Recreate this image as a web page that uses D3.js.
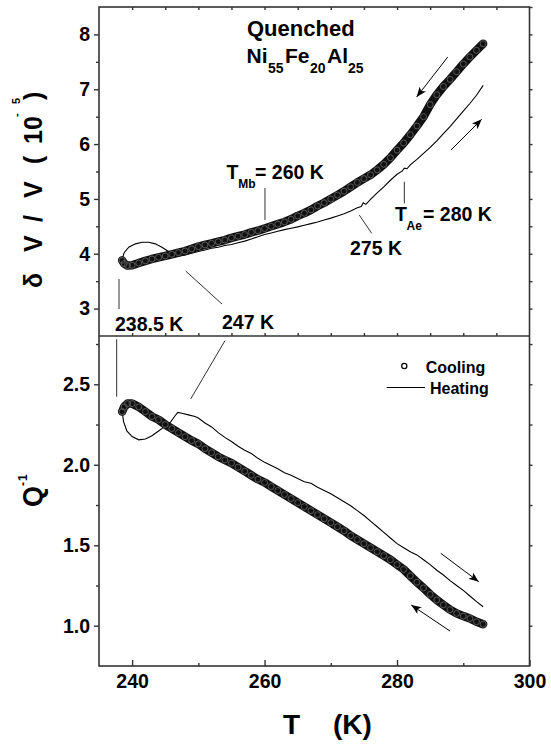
<!DOCTYPE html>
<html>
<head>
<meta charset="utf-8">
<script src="https://cdn.jsdelivr.net/npm/d3@7"></script>
<style>
  body { margin: 0; background: #fff; }
  text { font-family: 'Liberation Sans', Arial, sans-serif; font-weight: bold; }
</style>
</head>
<body>
<script>
// Données : température (K) et valeurs
// Refroidissement (cercles) : même grille de T pour les deux panneaux
const coolT = [238.5, 238.8, 239.3, 240, 241, 242, 243, 244, 245, 246, 247, 248, 249, 250,
  251, 252, 253, 254, 255, 256, 257, 258, 259, 260, 261, 262, 263, 264, 265, 266, 267, 268, 269, 270,
  271, 272, 273, 274, 275, 276, 277, 278, 279, 280, 281, 282, 283, 284, 285, 286, 287, 288, 289, 290,
  291, 292, 293]
const coolDV = [3.88, 3.82, 3.785, 3.79, 3.83, 3.87, 3.905, 3.935, 3.96, 3.99, 4.02, 4.05, 4.09, 4.13,
  4.16, 4.19, 4.22, 4.25, 4.29, 4.32, 4.35, 4.39, 4.42, 4.46, 4.50, 4.54, 4.58, 4.63, 4.69, 4.74, 4.80, 4.87, 4.93, 5.00,
  5.07, 5.14, 5.22, 5.30, 5.37, 5.44, 5.53, 5.63, 5.75, 5.89, 6.02, 6.17, 6.33, 6.50, 6.72, 6.90, 7.05, 7.18, 7.32, 7.46,
  7.59, 7.71, 7.83]
const coolQ = [2.33, 2.36, 2.38, 2.38, 2.36, 2.33, 2.30, 2.28, 2.25, 2.225, 2.20, 2.175, 2.15, 2.13,
  2.10, 2.075, 2.05, 2.03, 2.01, 1.985, 1.96, 1.935, 1.91, 1.89, 1.865, 1.84, 1.815, 1.79, 1.765, 1.74, 1.715, 1.69, 1.665, 1.64,
  1.615, 1.59, 1.56, 1.535, 1.51, 1.485, 1.46, 1.435, 1.41, 1.38, 1.35, 1.31, 1.27, 1.235, 1.195, 1.16, 1.13, 1.10, 1.077, 1.06,
  1.045, 1.025, 1.01]

// Chauffage (trait fin) - panneau du haut
const heatTdv = [238.5, 238.8, 239.5, 240.5, 241.5, 242.5, 243.5, 244.5, 245.5, 246.2,
  247, 248, 249, 250, 251, 252, 253, 254, 255, 256, 257, 258, 259, 260, 261, 262, 263, 264, 265, 266,
  267, 268, 269, 270, 271, 272, 273, 274, 274.6, 274.9, 275.3, 276, 277, 278, 279, 280, 280.8, 281.1, 281.5,
  282, 283, 284, 285, 286, 287, 288, 289, 290, 291, 292, 293]
const heatDV = [3.90, 4.02, 4.12, 4.18, 4.21, 4.21, 4.18, 4.12, 4.04, 3.98,
  3.96, 3.98, 4.01, 4.04, 4.07, 4.10, 4.12, 4.15, 4.17, 4.20, 4.23, 4.27, 4.31, 4.35, 4.38, 4.41, 4.44, 4.465, 4.49, 4.52,
  4.55, 4.58, 4.615, 4.65, 4.69, 4.73, 4.78, 4.84, 4.86, 4.93, 4.90, 4.99, 5.11, 5.22, 5.34, 5.45, 5.51, 5.56, 5.55,
  5.62, 5.72, 5.83, 5.94, 6.06, 6.19, 6.32, 6.46, 6.60, 6.74, 6.89, 7.07]

// Chauffage (trait fin) - panneau du bas
const heatTq = [238.5, 238.7, 239.2, 240, 241, 242, 243, 244, 245, 245.8, 246.4, 246.9, 247.5, 248.5, 249.5,
  250, 251, 252, 253, 254, 255, 256, 257, 258, 259, 260, 261, 262, 263, 264, 265, 266, 267, 268, 269, 270,
  271, 272, 273, 274, 275, 276, 277, 278, 279, 280, 281, 282, 283, 284, 285, 286, 287, 288, 289, 290,
  291, 292, 293]
const heatQ = [2.33, 2.27, 2.21, 2.175, 2.155, 2.16, 2.18, 2.21, 2.24, 2.265, 2.30, 2.325, 2.32, 2.31, 2.30,
  2.29, 2.26, 2.235, 2.20, 2.17, 2.145, 2.115, 2.09, 2.07, 2.04, 2.015, 1.995, 1.975, 1.95, 1.935, 1.915, 1.895, 1.885, 1.86, 1.84, 1.82,
  1.795, 1.77, 1.745, 1.715, 1.685, 1.65, 1.615, 1.58, 1.545, 1.51, 1.485, 1.46, 1.44, 1.41, 1.38, 1.345, 1.315, 1.28, 1.25, 1.22,
  1.185, 1.15, 1.118]

// Graduations
const xTicks = [240, 260, 280, 300]
const xMinor = [250, 270, 290]
const xFine = d3.range(240, 300, 5)
const dvTicks = [3, 4, 5, 6, 7, 8]
const dvMinor = [3.5, 4.5, 5.5, 6.5, 7.5]
const dvRight = d3.range(3, 8.51, 0.5)
const qTicks = [1.0, 1.5, 2.0, 2.5]
const qMinor = [1.25, 1.75, 2.25, 2.75]
const qRight = d3.range(1.0, 2.76, 0.25)

// Segments d'annotation [T1, v1, T2, v2]
const topLeaders = [[238.02, 3.54, 238.02, 2.99], [248.09, 3.685, 253.57, 3.083],
  [260.06, 5.199, 260.06, 4.615], [281.1, 5.314, 281.1, 4.92], [274.3, 4.706, 276.17, 4.373]]
const botLeaders = [[237.67, 2.78, 237.67, 2.423], [254.02, 2.771, 248.85, 2.409]]
const topArrows = [[287.65, 7.588, 282.96, 6.858], [288.15, 5.892, 292.78, 6.452]]
const botArrows = [[286.6, 1.45, 292.33, 1.274], [288.0, 0.967, 282.15, 1.129]]

// Dimensions du cadre
const W = 551, H = 749
const frame = { left: 99, right: 529.5, top: 7, mid: 336, bottom: 666 }

const svg = d3.select('body').append('svg')
    .attr('width', W)
    .attr('height', H)

svg.append('rect').attr('width', W).attr('height', H).attr('fill', '#fff')

const defs = svg.append('defs')
defs.append('marker')
    .attr('id', 'head')
    .attr('viewBox', '0 0 10 8')
    .attr('refX', 10).attr('refY', 4)
    .attr('markerWidth', 10).attr('markerHeight', 8)
    .attr('markerUnits', 'userSpaceOnUse')
    .attr('orient', 'auto')
    .append('path')
    .attr('d', 'M0,0 L10,4 L0,8 L2.5,4 Z')
    .attr('fill', '#000')

// Echelles
const x = d3.scaleLinear().domain([235, 300]).range([frame.left, frame.right])
const yTop = d3.scaleLinear().domain([2.5, 8.5]).range([frame.mid, frame.top])
const yBot = d3.scaleLinear().domain([0.75, 2.8]).range([frame.bottom, frame.mid])

// Mise en forme commune des axes
const tidy = (g, size) => {
    g.attr('font-family', "'Liberation Sans', Arial, sans-serif")
        .attr('font-size', size)
        .attr('font-weight', 'bold')
    g.select('.domain').remove()
    g.selectAll('line').attr('stroke', '#333').attr('stroke-width', 1.4)
    g.selectAll('text').attr('fill', '#000')
}

const addAxis = (axis, tx, ty, size) => {
    svg.append('g')
        .attr('transform', `translate(${tx},${ty})`)
        .call(axis)
        .call(g => tidy(g, size))
}

// Axe gauche, panneau du haut
addAxis(d3.axisLeft(yTop).tickValues(dvTicks).tickSize(5).tickPadding(4).tickFormat(d3.format('d')), frame.left, 0, 19.5)
addAxis(d3.axisLeft(yTop).tickValues(dvMinor).tickSize(3).tickFormat(''), frame.left, 0, 10)
// Axe gauche, panneau du bas
addAxis(d3.axisLeft(yBot).tickValues(qTicks).tickSize(5).tickPadding(4).tickFormat(d3.format('.1f')), frame.left, 0, 19.5)
addAxis(d3.axisLeft(yBot).tickValues(qMinor).tickSize(3).tickFormat(''), frame.left, 0, 10)
// Axe droit
addAxis(d3.axisRight(yTop).tickValues(dvRight).tickSize(3).tickFormat(''), frame.right, 0, 10)
addAxis(d3.axisRight(yBot).tickValues(qRight).tickSize(3).tickFormat(''), frame.right, 0, 10)
// Axe du bas (graduations vers l'intérieur)
addAxis(d3.axisBottom(x).tickValues(xTicks).tickSizeInner(-6).tickSizeOuter(0).tickPadding(8), 0, frame.bottom, 19.5)
addAxis(d3.axisBottom(x).tickValues(xMinor).tickSizeInner(-3).tickSizeOuter(0).tickFormat(''), 0, frame.bottom, 10)
// Haut et séparation
addAxis(d3.axisBottom(x).tickValues(xFine).tickSize(3).tickFormat(''), 0, frame.top, 10)
addAxis(d3.axisTop(x).tickValues(xFine).tickSize(3).tickFormat(''), 0, frame.mid, 10)

// Cadre
svg.append('rect')
    .attr('x', frame.left).attr('y', frame.top)
    .attr('width', frame.right - frame.left)
    .attr('height', frame.bottom - frame.top)
    .attr('fill', 'none').attr('stroke', '#333').attr('stroke-width', 1.6)
svg.append('line')
    .attr('x1', frame.left).attr('x2', frame.right)
    .attr('y1', frame.mid).attr('y2', frame.mid)
    .attr('stroke', '#333').attr('stroke-width', 1.6)

// Dessine une série
const drawHeating = (T, V, ys) => {
    svg.append('path')
        .datum(d3.zip(T, V))
        .attr('d', d3.line().x(d => x(d[0])).y(d => ys(d[1])))
        .attr('fill', 'none')
        .attr('stroke', '#000')
        .attr('stroke-width', 1.1)
}

// bande noire épaisse + cercles gris (comme les symboles très serrés de l'original)
const drawCooling = (T, V, ys) => {
    const pts = d3.zip(T, V)
    svg.append('path')
        .datum(pts)
        .attr('d', d3.line().x(d => x(d[0])).y(d => ys(d[1])))
        .attr('fill', 'none')
        .attr('stroke', '#111')
        .attr('stroke-width', 8.5)
        .attr('stroke-linejoin', 'round')
        .attr('stroke-linecap', 'round')
    svg.append('g')
        .selectAll('circle')
        .data(pts)
        .join('circle')
        .attr('cx', d => x(d[0]))
        .attr('cy', d => ys(d[1]))
        .attr('r', 3)
        .attr('fill', 'none')
        .attr('stroke', '#5a5a5a')
        .attr('stroke-width', 1)
}

drawHeating(heatTdv, heatDV, yTop)
drawCooling(coolT, coolDV, yTop)
drawHeating(heatTq, heatQ, yBot)
drawCooling(coolT, coolQ, yBot)

// Traits de repère
const drawSegs = (segs, ys, arrow) => {
    svg.append('g')
        .selectAll('line')
        .data(segs)
        .join('line')
        .attr('x1', d => x(d[0])).attr('y1', d => ys(d[1]))
        .attr('x2', d => x(d[2])).attr('y2', d => ys(d[3]))
        .attr('stroke', arrow ? '#000' : '#333')
        .attr('stroke-width', 1)
        .attr('marker-end', arrow ? 'url(#head)' : null)
}
drawSegs(topLeaders, yTop, false)
drawSegs(botLeaders, yBot, false)
drawSegs(topArrows, yTop, true)
drawSegs(botArrows, yBot, true)

// Texte avec morceaux positionnés
const rich = (parts, y, size) => {
    const t = svg.append('text').attr('y', y).attr('font-size', size)
    parts.forEach(p => {
        t.append('tspan')
            .attr('x', p.x)
            .attr('y', y + (p.dy || 0))
            .attr('font-size', p.size || size)
            .text(p.t)
    })
    return t
}

// Titre
rich([{ x: 247, t: 'Quenched' }], 36, 22)
rich([{ x: 246.5, t: 'Ni' }, { x: 268, t: '55', dy: 10, size: 14 }, { x: 285, t: 'Fe' },
  { x: 310, t: '20', dy: 10, size: 14 }, { x: 327, t: 'Al' }, { x: 348, t: '25', dy: 10, size: 14 }], 63, 21)

// Etiquettes de température
rich([{ x: 226.5, t: 'T' }, { x: 238.3, t: 'Mb', dy: 9, size: 12 }, { x: 255, t: '= 260 K' }], 178.5, 19.5)
rich([{ x: 395, t: 'T' }, { x: 406.5, t: 'Ae', dy: 9, size: 12 }, { x: 423, t: '= 280 K' }], 221, 19.5)
rich([{ x: 350, t: '275 K' }], 255, 19.5)
rich([{ x: 115, t: '238.5 K' }], 331, 19.5)
rich([{ x: 222, t: '247 K' }], 329, 19.5)

// Légende
svg.append('circle').attr('cx', 404.3).attr('cy', 366).attr('r', 2.6)
    .attr('fill', '#fff').attr('stroke', '#000').attr('stroke-width', 1.2)
rich([{ x: 425.7, t: 'Cooling' }], 372.5, 16)
svg.append('line').attr('x1', 386.7).attr('x2', 425).attr('y1', 387.5).attr('y2', 387.5)
    .attr('stroke', '#000').attr('stroke-width', 1.1)
rich([{ x: 430, t: 'Heating' }], 394, 16)

// Titre de l'axe X
rich([{ x: 283, t: 'T' }, { x: 333, t: '(K)' }], 734, 28)

// Titres des axes Y (texte tourné)
const vTitle = (parts, bx, size) => {
    const t = svg.append('text')
        .attr('transform', `translate(${bx},0) rotate(-90)`)
        .attr('font-size', size)
    parts.forEach(p => {
        t.append('tspan')
            .attr('x', -p.y)
            .attr('y', p.dy || 0)
            .attr('font-size', p.size || size)
            .text(p.t)
    })
}
vTitle([{ y: 288, t: 'δ' }, { y: 252, t: 'V' }, { y: 222, t: '/' }, { y: 198, t: 'V' },
  { y: 164, t: '(' }, { y: 144, t: '10' }, { y: 117, t: '-', dy: -22, size: 11 },
  { y: 104, t: '5', dy: -22, size: 11 }, { y: 100, t: ')' }], 42, 25)
vTitle([{ y: 507, t: 'Q' }, { y: 486, t: '-', dy: -15, size: 12 }, { y: 481, t: '1', dy: -15, size: 12 }], 42, 27)
</script>
</body>
</html>
